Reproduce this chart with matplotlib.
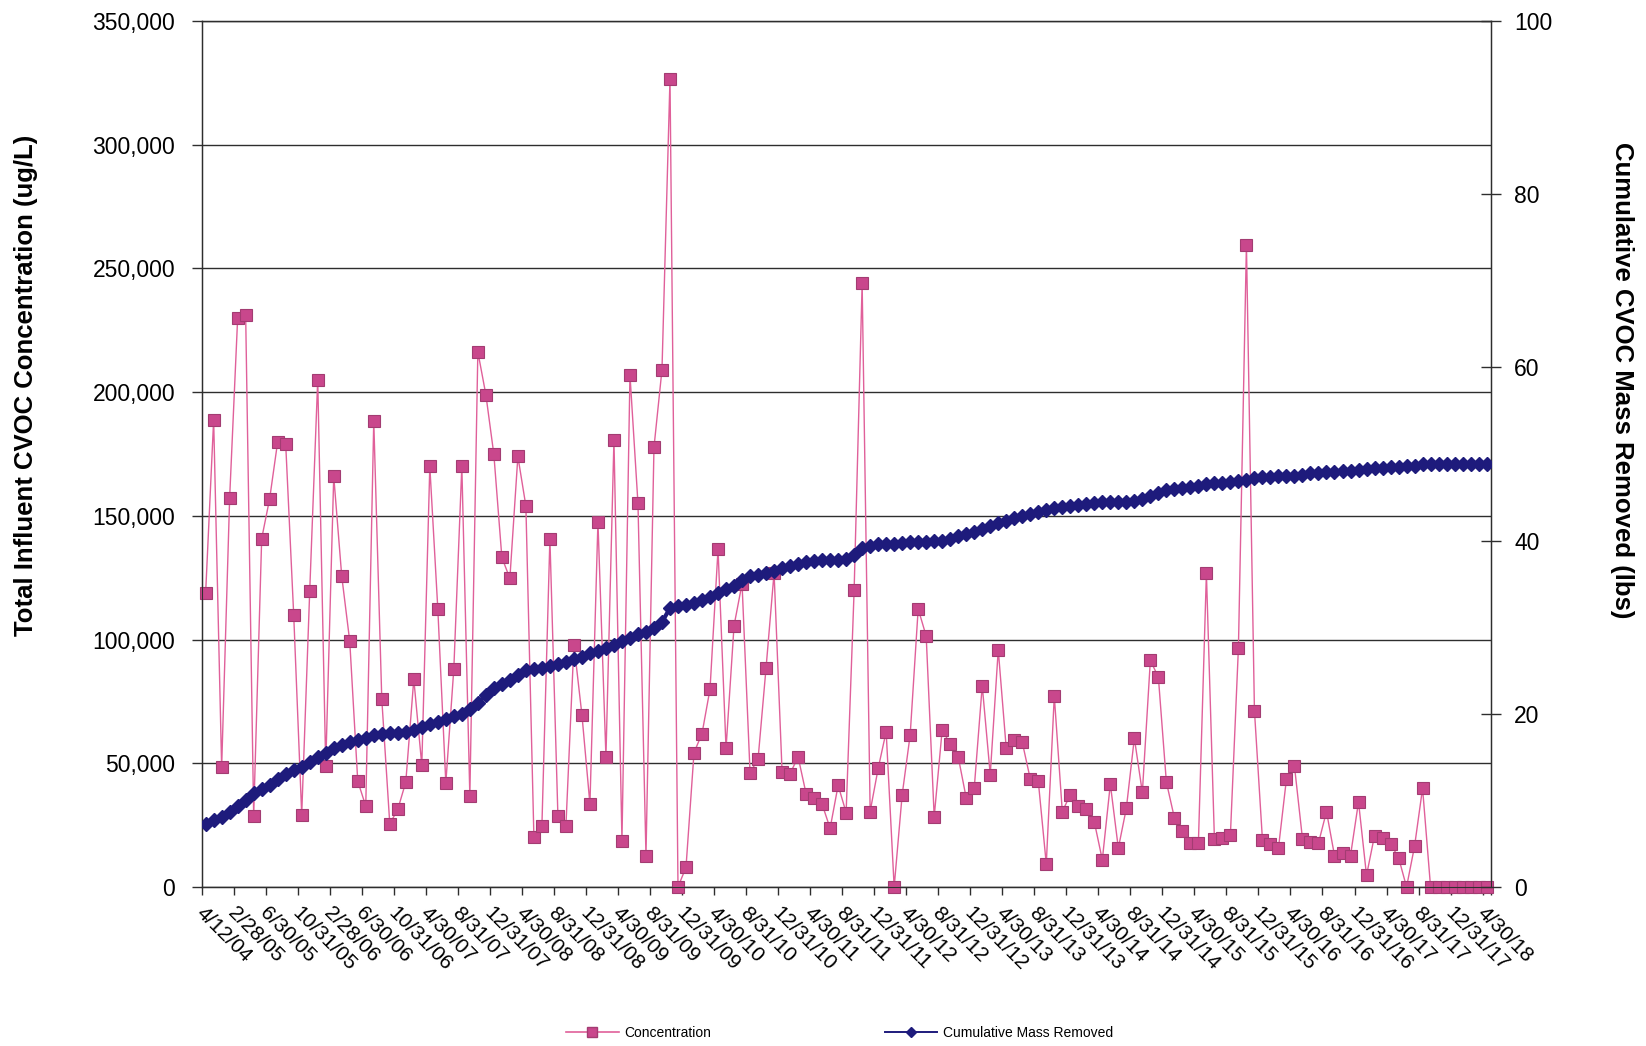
import numpy as np
import matplotlib.pyplot as plt
from matplotlib.lines import Line2D
from matplotlib.ticker import FuncFormatter, MultipleLocator

plt.rcParams['font.family'] = ['Liberation Sans', 'DejaVu Sans']

# sampling dates shown on the category axis (every 4th sample)
date_labels = ['4/12/04', '2/28/05', '6/30/05', '10/31/05', '2/28/06', '6/30/06',
               '10/31/06', '4/30/07', '8/31/07', '12/31/07', '4/30/08', '8/31/08',
               '12/31/08', '4/30/09', '8/31/09', '12/31/09', '4/30/10', '8/31/10',
               '12/31/10', '4/30/11', '8/31/11', '12/31/11', '4/30/12', '8/31/12',
               '12/31/12', '4/30/13', '8/31/13', '12/31/13', '4/30/14', '8/31/14',
               '12/31/14', '4/30/15', '8/31/15', '12/31/15', '4/30/16', '8/31/16',
               '12/31/16', '4/30/17', '8/31/17', '12/31/17', '4/30/18']
label_step = 4

# total influent CVOC concentration (ug/L)
concentration = [
    118800, 188800, 48400, 157400, 230000, 231000, 28800, 140800, 157000, 180000,
    179000, 110000, 29300, 119600, 205000, 48800, 166000, 125600, 99300, 42800,
    32700, 188300, 76000, 25500, 31400, 42400, 84000, 49200, 170000, 112400,
    42000, 88200, 170000, 36900, 216300, 199000, 174800, 133200, 124700, 174000,
    154000, 20400, 24600, 140800, 28800, 24600, 98000, 69600, 33500, 147600,
    52600, 180700, 18700, 207000, 155000, 12700, 177700, 209100, 326600, 0,
    8000, 54300, 62000, 80000, 136500, 56000, 105600, 122600, 46200, 51700,
    88600, 127000, 46600, 45800, 52600, 37700, 36000, 33500, 23700, 41100,
    30100, 120000, 243900, 30500, 47900, 62800, 0, 37300, 61500, 112400,
    101400, 28400, 63600, 57700, 52600, 36000, 39900, 81400, 45400, 95900,
    56000, 59400, 58500, 43700, 42800, 9300, 77200, 30500, 37300, 32700,
    31400, 26300, 11000, 41600, 15700, 31800, 60200, 38200, 91600, 84800,
    42400, 28000, 22500, 17800, 17800, 126800, 19500, 19900, 21200, 96700,
    259600, 71300, 19100, 17400, 15700, 43700, 48800, 19500, 18200, 17800,
    30500, 12700, 13600, 12700, 34400, 4700, 20800, 19900, 17400, 11900,
    0, 16500, 39900, 0, 0, 0, 0, 0, 0, 0, 0,
]

# cumulative CVOC mass removed (lbs)
cumulative = [
    7.3, 7.7, 8.1, 8.7, 9.3, 10.1, 10.9, 11.3, 11.8, 12.5,
    13.1, 13.5, 13.9, 14.4, 15.0, 15.5, 16.0, 16.4, 16.8, 17.0,
    17.2, 17.5, 17.7, 17.8, 17.8, 17.9, 18.1, 18.5, 18.8, 19.1,
    19.4, 19.7, 20.0, 20.5, 21.2, 22.2, 23.0, 23.4, 23.9, 24.5,
    25.1, 25.2, 25.3, 25.5, 25.7, 26.0, 26.3, 26.6, 27.0, 27.3,
    27.6, 28.0, 28.4, 28.8, 29.2, 29.5, 29.9, 30.6, 32.2, 32.4,
    32.6, 32.8, 33.1, 33.5, 33.9, 34.4, 34.8, 35.4, 35.9, 36.0,
    36.2, 36.5, 36.8, 37.1, 37.3, 37.5, 37.6, 37.7, 37.7, 37.8,
    37.9, 38.3, 39.2, 39.4, 39.6, 39.6, 39.6, 39.7, 39.8, 39.8,
    39.8, 39.9, 40.0, 40.2, 40.5, 40.8, 41.0, 41.3, 41.7, 42.0,
    42.3, 42.6, 42.8, 43.1, 43.3, 43.5, 43.8, 43.9, 44.0, 44.1,
    44.2, 44.3, 44.4, 44.4, 44.5, 44.5, 44.6, 44.8, 45.1, 45.5,
    45.8, 46.0, 46.1, 46.2, 46.3, 46.5, 46.7, 46.7, 46.8, 46.9,
    47.0, 47.2, 47.3, 47.3, 47.4, 47.4, 47.5, 47.6, 47.8, 47.8,
    47.9, 47.9, 48.0, 48.0, 48.1, 48.3, 48.4, 48.4, 48.5, 48.5,
    48.6, 48.6, 48.8, 48.8, 48.8, 48.8, 48.8, 48.8, 48.8, 48.8, 48.8,
]

pink_line = '#E0609A'
pink_face = '#C9478C'
pink_edge = '#A33C72'
navy = '#1E1B7C'
grid_col = '#2E2E2E'

fig = plt.figure(figsize=(16.46, 10.46), dpi=100)
ax = fig.add_axes([0.1225, 0.152, 0.7831, 0.828])

x = np.arange(len(concentration))
ax.plot(x, concentration, color=pink_line, lw=1.0, marker='s', ms=9,
        mfc=pink_face, mec=pink_edge, mew=0.8, clip_on=False, zorder=3)

ax.set_xlim(-0.5, len(x) - 0.5)
ax.set_ylim(0, 350000)
ax.yaxis.set_major_locator(MultipleLocator(50000))
ax.yaxis.set_major_formatter(FuncFormatter(lambda v, p: f'{int(v):,}'))
ax.grid(axis='y', color=grid_col, lw=1.0)
ax.set_axisbelow(True)
ax.tick_params(axis='y', direction='out', length=7, width=1, labelsize=16.5,
               color=grid_col, pad=12)

# labels every 4th sample, ticks on category boundaries
label_pos = np.arange(0, len(x), label_step)
ax.set_xticks(label_pos)
ax.set_xticklabels(date_labels, rotation=-45, ha='left', va='top',
                   rotation_mode='anchor', fontsize=15)
ax.set_xticks(np.append(label_pos - 0.5, len(x) - 0.5), minor=True)
ax.tick_params(axis='x', which='major', length=0, pad=12)
ax.tick_params(axis='x', which='minor', direction='out', length=6, width=1,
               color=grid_col)

for s in ax.spines.values():
    s.set_color(grid_col)
    s.set_linewidth(1.0)

ax2 = ax.twinx()
ax2.plot(x, cumulative, color=navy, lw=3, marker='D', ms=7, mfc=navy,
         mec=navy, zorder=4)
ax2.set_ylim(0, 100)
ax2.set_yticks(range(0, 101, 20))
ax2.tick_params(axis='y', direction='inout', length=14, width=1, labelsize=16.5,
                color=grid_col, pad=10)
for s in ax2.spines.values():
    s.set_color(grid_col)

fig.text(26 / 1646, 1 - 385 / 1046, 'Total Influent CVOC Concentration (ug/L)',
         rotation=90, ha='center', va='center', fontsize=18.5, fontweight='bold')
fig.text(1622 / 1646, 1 - 380 / 1046, 'Cumulative CVOC Mass Removed (lbs)',
         rotation=-90, ha='center', va='center', fontsize=18.5, fontweight='bold')

handles = [
    Line2D([], [], color=pink_line, lw=1.2, marker='s', ms=7, mfc=pink_face,
           mec=pink_edge),
    Line2D([], [], color=navy, lw=1.4, marker='D', ms=5, mfc=navy, mec=navy),
]
fig.legend(handles, ['Concentration', 'Cumulative Mass Removed'], loc='center',
           bbox_to_anchor=(0.51, 0.0125), ncol=2, frameon=False, fontsize=10,
           handlelength=3.8, columnspacing=12.5, handletextpad=0.4)

fig.savefig('out.png', dpi=100)
